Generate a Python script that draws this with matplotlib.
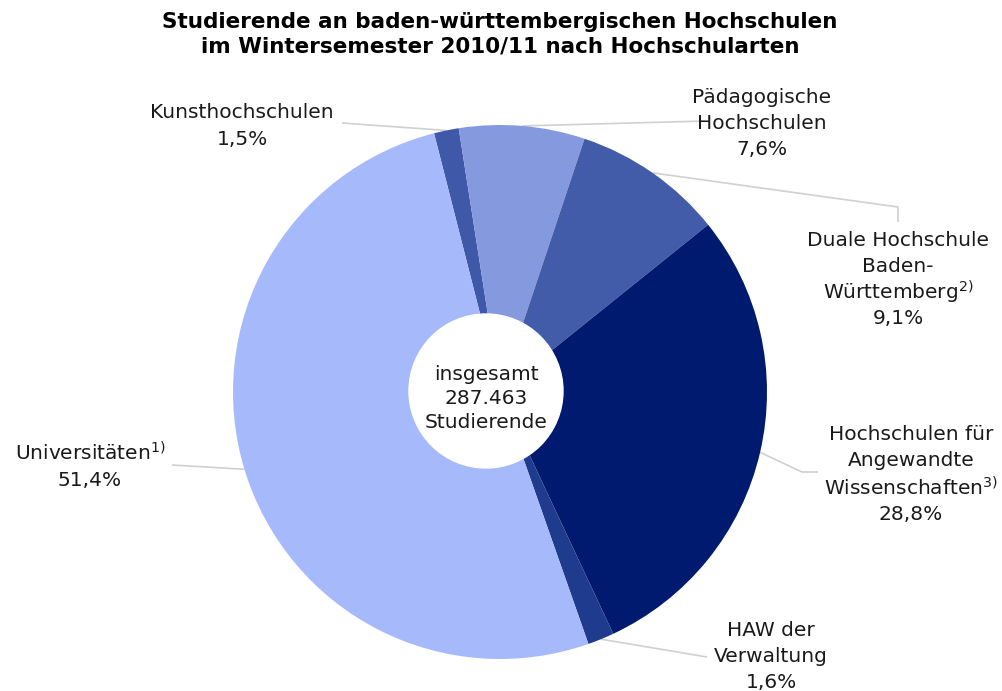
import matplotlib
matplotlib.use('Agg')
import matplotlib.pyplot as plt
import numpy as np
from matplotlib.patches import Circle

W, H = 1003, 691

# shares in percent, clockwise from the top
categories = ['Kunsthochschulen', 'Pädagogische Hochschulen', 'Duale Hochschule Baden-Württemberg',
              'Hochschulen für Angewandte Wissenschaften', 'HAW der Verwaltung', 'Universitäten']
shares = [1.5, 7.6, 9.1, 28.8, 1.6, 51.4]
share_labels = ['1,5%', '7,6%', '9,1%', '28,8%', '1,6%', '51,4%']
colors = ['#3f58a8', '#8599de', '#425caa', '#001a70', '#1f3b8d', '#a6bafb']
total_text = ['insgesamt', '287.463', 'Studierende']

# label lines per slice (last line is the share)
label_lines = [
    ['Kunsthochschulen'],
    ['Pädagogische', 'Hochschulen'],
    ['Duale Hochschule', 'Baden-', 'Württemberg$^{2)}$'],
    ['Hochschulen für', 'Angewandte', 'Wissenschaften$^{3)}$'],
    ['HAW der', 'Verwaltung'],
    ['Universitäten$^{1)}$'],
]
# label centre x, first line y (pixels from top), line pitch
label_pos = [(242, 112, 27), (762, 97, 26), (898, 240, 26),
             (911, 434, 27), (771, 630, 26), (90, 453, 28)]
# leader line knots after the wedge anchor (pixels from top)
leader_pts = [[(342, 123)], [(705, 121)], [(898, 207), (898, 222)],
              [(802, 472), (818, 472)], [(707, 657)], [(172, 465)]]

cx, cy, r = 500, 392, 267

fig = plt.figure(figsize=(W / 100, H / 100), dpi=100)
ax = fig.add_axes([0, 0, 1, 1])
wedges, _ = ax.pie(shares, colors=colors, startangle=104.3, counterclock=False,
                   center=(cx, H - cy), radius=r, wedgeprops=dict(linewidth=0))
for w in wedges:
    w.set_zorder(2)
ax.add_patch(Circle((486, H - 391), 77, color='white', zorder=3))

for w, pts in zip(wedges, leader_pts):
    mid = np.deg2rad((w.theta1 + w.theta2) / 2)
    x0 = cx + r * np.cos(mid)
    y0 = (H - cy) + r * np.sin(mid)
    xs = [x0] + [p[0] for p in pts]
    ys = [y0] + [H - p[1] for p in pts]
    ax.plot(xs, ys, color='#d0d0d0', lw=1.2, zorder=1, solid_capstyle='butt')

for lines, pct, (lx, ly, pitch) in zip(label_lines, share_labels, label_pos):
    for i, t in enumerate(lines + [pct]):
        ax.text(lx, H - (ly + i * pitch), t, ha='center', va='center',
                fontsize=14.5, color='#1a1a1a', zorder=4)

for i, t in enumerate(total_text):
    ax.text(486, H - (374 + i * 24), t, ha='center', va='center',
            fontsize=14.5, color='#1a1a1a', zorder=4)

ax.text(500, H - 22, 'Studierende an baden-württembergischen Hochschulen',
        ha='center', va='center', fontsize=15.5, fontweight='bold', color='black')
ax.text(500, H - 46, 'im Wintersemester 2010/11 nach Hochschularten',
        ha='center', va='center', fontsize=15.5, fontweight='bold', color='black')

ax.set_xlim(0, W)
ax.set_ylim(0, H)
ax.axis('off')
fig.savefig('out.png', dpi=100)
